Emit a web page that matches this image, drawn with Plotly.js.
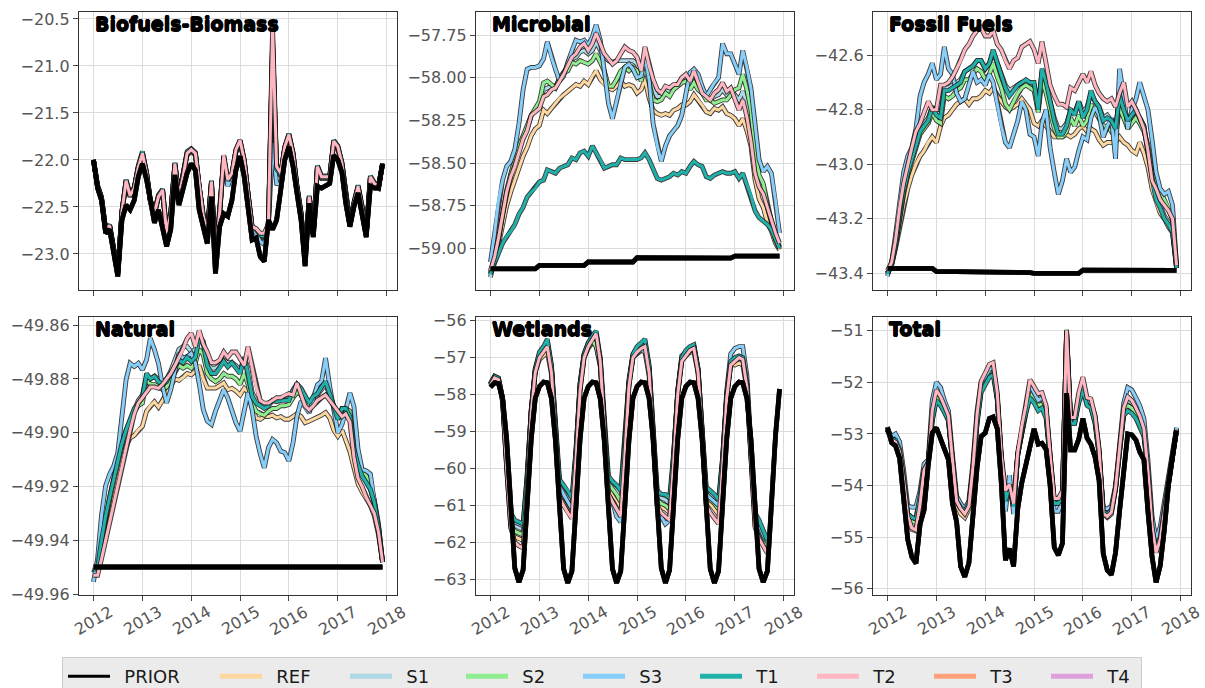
<!DOCTYPE html>
<html><head><meta charset="utf-8">
<script src="https://cdn.plot.ly/plotly-3.0.1.min.js"></script>
<style>html,body{margin:0;padding:0;background:#fff}#chart{width:1205px;height:688px}</style>
</head><body><div id="chart"></div>
<script>
// ---------------- categories ----------------
const years = [2012, 2013, 2014, 2015, 2016, 2017];
const yearTicks = [2012, 2013, 2014, 2015, 2016, 2017, 2018];
const seriesNames = ['PRIOR','REF','S1','S2','S3','T1','T2','T3','T4'];
const panelTitles = ['Biofuels-Biomass','Microbial','Fossil Fuels','Natural','Wetlands','Total'];

// ---------------- Biofuels-Biomass ----------------
const bioPRIOR = [-22.00,-22.30,-22.43,-22.78,-22.74,-22.99,-23.24,-22.64,-22.48,-22.53,-22.43,-22.18,
 -22.04,-22.21,-22.46,-22.67,-22.53,-22.71,-22.92,-22.74,-22.16,-22.48,-22.28,-22.14,
 -22.04,-22.11,-22.53,-22.71,-22.89,-22.39,-23.21,-22.71,-22.57,-22.60,-22.43,-22.11,
 -21.96,-22.18,-22.50,-22.85,-22.83,-23.03,-23.08,-22.64,-22.74,-22.64,-22.32,-22.00,
 -21.86,-22.07,-22.35,-22.64,-23.13,-22.46,-22.82,-22.28,-22.30,-22.27,-22.25,-21.95,
 -22.00,-22.14,-22.46,-22.71,-22.50,-22.35,-22.57,-22.82,-22.28,-22.30,-22.30,-22.04];
const bioREF = [-22.00,-22.29,-22.41,-22.75,-22.71,-22.97,-23.21,-22.56,-22.24,-22.39,-22.31,-22.09,
 -21.95,-22.15,-22.44,-22.58,-22.40,-22.34,-22.79,-22.58,-22.06,-22.40,-22.19,-21.95,
 -21.91,-21.95,-22.29,-22.61,-22.79,-22.25,-23.04,-22.58,-21.99,-22.24,-22.17,-21.92,
 -21.82,-22.02,-22.37,-22.73,-22.76,-22.82,-22.83,-22.70,-20.80,-22.12,-22.17,-21.88,
 -21.75,-21.95,-22.30,-22.59,-23.08,-22.41,-22.80,-22.09,-22.20,-22.20,-22.20,-21.83,
 -21.88,-22.06,-22.41,-22.70,-22.48,-22.30,-22.52,-22.80,-22.20,-22.27,-22.30,-22.05];
const bioS1 = [-22.00,-22.28,-22.40,-22.74,-22.70,-22.96,-23.20,-22.55,-22.22,-22.38,-22.30,-22.07,
 -21.93,-22.14,-22.43,-22.56,-22.38,-22.32,-22.78,-22.57,-22.04,-22.39,-22.18,-21.93,
 -21.89,-21.93,-22.28,-22.60,-22.78,-22.23,-23.03,-22.57,-21.97,-22.23,-22.16,-21.90,
 -21.80,-22.01,-22.36,-22.72,-22.75,-22.81,-22.82,-22.69,-20.70,-22.10,-22.16,-21.87,
 -21.73,-21.93,-22.28,-22.57,-23.06,-22.39,-22.78,-22.07,-22.18,-22.18,-22.18,-21.80,
 -21.86,-22.04,-22.39,-22.68,-22.46,-22.28,-22.50,-22.78,-22.18,-22.25,-22.28,-22.04];
const bioS2 = [-22.00,-22.28,-22.41,-22.75,-22.70,-22.96,-23.21,-22.56,-22.23,-22.39,-22.30,-22.08,
 -21.94,-22.15,-22.44,-22.57,-22.39,-22.33,-22.79,-22.58,-22.05,-22.40,-22.19,-21.94,
 -21.90,-21.94,-22.29,-22.61,-22.79,-22.24,-23.04,-22.58,-21.98,-22.23,-22.16,-21.91,
 -21.81,-22.02,-22.36,-22.72,-22.75,-22.81,-22.82,-22.70,-20.75,-22.11,-22.16,-21.87,
 -21.74,-21.94,-22.29,-22.58,-23.07,-22.40,-22.79,-22.08,-22.19,-22.19,-22.19,-21.82,
 -21.87,-22.05,-22.40,-22.69,-22.47,-22.29,-22.51,-22.79,-22.19,-22.26,-22.29,-22.04];
const bioS3 = [-22.00,-22.28,-22.40,-22.74,-22.70,-22.96,-23.20,-22.55,-22.22,-22.38,-22.30,-22.08,
 -21.93,-22.14,-22.43,-22.57,-22.39,-22.32,-22.78,-22.57,-22.04,-22.39,-22.18,-21.93,
 -21.89,-21.93,-22.28,-22.60,-22.80,-22.25,-23.05,-22.60,-21.98,-22.28,-22.16,-21.90,
 -21.80,-22.01,-22.36,-22.73,-22.78,-22.87,-22.90,-22.70,-21.82,-22.25,-22.26,-21.88,
 -21.74,-21.94,-22.29,-22.58,-23.07,-22.40,-22.79,-22.08,-22.19,-22.19,-22.19,-21.81,
 -21.87,-22.05,-22.40,-22.69,-22.47,-22.29,-22.51,-22.79,-22.19,-22.26,-22.29,-22.04];
const bioT1 = [-22.00,-22.27,-22.39,-22.73,-22.69,-22.95,-23.19,-22.54,-22.21,-22.37,-22.29,-22.06,
 -21.91,-22.13,-22.42,-22.55,-22.37,-22.31,-22.77,-22.56,-22.03,-22.38,-22.17,-21.91,
 -21.88,-21.92,-22.27,-22.59,-22.77,-22.22,-23.02,-22.56,-21.96,-22.22,-22.15,-21.89,
 -21.79,-22.00,-22.35,-22.71,-22.74,-22.80,-22.81,-22.69,-20.75,-22.10,-22.15,-21.86,
 -21.72,-21.92,-22.27,-22.56,-23.05,-22.38,-22.77,-22.06,-22.17,-22.17,-22.17,-21.79,
 -21.85,-22.03,-22.38,-22.67,-22.45,-22.27,-22.49,-22.77,-22.17,-22.24,-22.27,-22.04];
const bioT2 = [-22.00,-22.28,-22.40,-22.74,-22.70,-22.96,-23.20,-22.55,-22.22,-22.38,-22.30,-22.08,
 -21.93,-22.14,-22.43,-22.57,-22.39,-22.32,-22.78,-22.57,-22.04,-22.39,-22.18,-21.93,
 -21.89,-21.93,-22.28,-22.60,-22.78,-22.23,-23.03,-22.57,-21.95,-22.21,-22.14,-21.89,
 -21.79,-22.00,-22.35,-22.71,-22.73,-22.78,-22.78,-22.68,-20.57,-22.07,-22.14,-21.86,
 -21.73,-21.93,-22.28,-22.57,-23.06,-22.39,-22.78,-22.07,-22.18,-22.18,-22.18,-21.80,
 -21.86,-22.04,-22.39,-22.68,-22.46,-22.28,-22.50,-22.78,-22.18,-22.25,-22.28,-22.04];

// ---------------- Microbial ----------------
const micPRIOR = [-59.12,-59.12,-59.12,-59.12,-59.12,-59.12,-59.12,-59.12,-59.12,-59.12,-59.12,-59.12,
 -59.10,-59.10,-59.10,-59.10,-59.10,-59.10,-59.10,-59.10,-59.10,-59.10,-59.10,-59.10,
 -59.08,-59.08,-59.08,-59.08,-59.08,-59.08,-59.08,-59.08,-59.08,-59.08,-59.08,-59.08,
 -59.055,-59.055,-59.055,-59.055,-59.055,-59.055,-59.055,-59.055,-59.055,-59.055,-59.055,-59.055,
 -59.057,-59.057,-59.057,-59.057,-59.057,-59.057,-59.057,-59.057,-59.057,-59.057,-59.057,-59.057,
 -59.045,-59.045,-59.045,-59.045,-59.045,-59.045,-59.045,-59.045,-59.045,-59.045,-59.045,-59.045];
const micREF = [-59.14,-59.07,-58.98,-58.86,-58.75,-58.67,-58.60,-58.52,-58.46,-58.41,-58.34,-58.30,
 -58.28,-58.19,-58.21,-58.18,-58.15,-58.12,-58.10,-58.08,-58.06,-58.04,-58.05,-58.02,
 -58.04,-57.99,-57.96,-58.01,-58.04,-58.06,-58.07,-58.05,-58.02,-58.05,-58.04,-58.05,
 -58.09,-58.07,-58.01,-58.12,-58.19,-58.21,-58.22,-58.21,-58.22,-58.19,-58.18,-58.16,
 -58.16,-58.14,-58.10,-58.13,-58.16,-58.20,-58.21,-58.18,-58.19,-58.17,-58.21,-58.22,
 -58.24,-58.28,-58.24,-58.31,-58.40,-58.60,-58.71,-58.76,-58.85,-58.90,-58.97,-59.01];
const micS1 = [-59.17,-59.06,-58.95,-58.80,-58.67,-58.57,-58.50,-58.42,-58.35,-58.30,-58.22,-58.19,
 -58.16,-58.07,-58.06,-58.05,-58.05,-58.01,-57.97,-57.94,-57.89,-57.88,-57.85,-57.84,
 -57.86,-57.84,-57.79,-57.84,-57.88,-57.90,-57.91,-57.90,-57.90,-57.90,-57.90,-57.90,
 -57.92,-57.98,-57.86,-57.97,-58.07,-58.11,-58.11,-58.07,-58.08,-58.05,-58.04,-58.01,
 -57.99,-58.04,-57.98,-58.05,-58.09,-58.12,-58.13,-58.11,-58.10,-58.07,-58.10,-58.08,
 -58.10,-58.13,-58.08,-58.15,-58.28,-58.50,-58.61,-58.66,-58.76,-58.84,-58.93,-58.99];
const micS2 = [-59.15,-59.06,-58.95,-58.80,-58.66,-58.56,-58.48,-58.40,-58.34,-58.28,-58.22,-58.18,
 -58.14,-58.03,-58.02,-58.04,-58.06,-58.00,-57.97,-57.96,-57.91,-57.92,-57.90,-57.91,
 -57.92,-57.90,-57.86,-57.91,-57.96,-58.05,-58.05,-58.01,-57.96,-57.94,-57.96,-57.94,
 -57.96,-58.02,-57.94,-58.03,-58.13,-58.14,-58.13,-58.09,-58.11,-58.07,-58.05,-58.03,
 -58.02,-58.07,-58.03,-58.07,-58.09,-58.13,-58.13,-58.15,-58.14,-58.13,-58.13,-58.10,
 -58.07,-58.06,-57.98,-58.07,-58.19,-58.42,-58.57,-58.62,-58.75,-58.84,-58.95,-59.00];
const micS3 = [-59.08,-58.91,-58.72,-58.60,-58.52,-58.49,-58.42,-58.27,-58.07,-57.95,-57.94,-57.94,
 -57.93,-57.89,-57.79,-57.88,-57.95,-58.02,-57.99,-57.91,-57.84,-57.78,-57.79,-57.78,
 -57.81,-57.76,-57.69,-57.78,-57.96,-58.15,-58.24,-58.13,-58.03,-57.94,-57.92,-57.95,
 -58.00,-57.99,-57.88,-58.01,-58.27,-58.40,-58.49,-58.40,-58.34,-58.31,-58.28,-58.22,
 -58.10,-57.97,-57.95,-57.98,-58.05,-58.11,-58.07,-58.03,-58.00,-57.80,-57.86,-57.86,
 -57.92,-57.98,-57.84,-57.94,-58.06,-58.27,-58.48,-58.55,-58.52,-58.56,-58.72,-58.91];
const micT1 = [-59.15,-59.08,-59.03,-58.97,-58.93,-58.90,-58.86,-58.80,-58.76,-58.70,-58.67,-58.65,
 -58.61,-58.60,-58.54,-58.55,-58.56,-58.53,-58.52,-58.51,-58.47,-58.48,-58.44,-58.43,
 -58.46,-58.40,-58.44,-58.48,-58.53,-58.52,-58.51,-58.51,-58.47,-58.48,-58.48,-58.48,
 -58.48,-58.47,-58.44,-58.48,-58.53,-58.59,-58.60,-58.59,-58.58,-58.56,-58.57,-58.55,
 -58.56,-58.52,-58.49,-58.51,-58.52,-58.58,-58.59,-58.57,-58.56,-58.55,-58.56,-58.56,
 -58.55,-58.59,-58.56,-58.63,-58.69,-58.78,-58.82,-58.84,-58.86,-58.89,-58.95,-59.00];
const micT2 = [-59.13,-59.05,-58.94,-58.80,-58.67,-58.58,-58.52,-58.44,-58.36,-58.31,-58.22,-58.20,
 -58.18,-58.11,-58.10,-58.07,-58.06,-58.02,-57.98,-57.93,-57.88,-57.86,-57.82,-57.80,
 -57.84,-57.80,-57.74,-57.80,-57.86,-57.89,-57.92,-57.90,-57.86,-57.82,-57.84,-57.85,
 -57.88,-57.96,-57.82,-57.93,-58.01,-58.07,-58.09,-58.05,-58.06,-58.04,-58.04,-58.00,
 -57.98,-58.02,-57.96,-58.03,-58.09,-58.11,-58.13,-58.09,-58.07,-58.03,-58.08,-58.06,
 -58.13,-58.19,-58.13,-58.23,-58.37,-58.56,-58.64,-58.68,-58.76,-58.84,-58.91,-58.97];

// ---------------- Fossil Fuels ----------------
const fosPRIOR = [-43.382,-43.382,-43.382,-43.382,-43.382,-43.382,-43.382,-43.382,-43.382,-43.382,-43.382,-43.382,
 -43.393,-43.393,-43.393,-43.393,-43.393,-43.393,-43.393,-43.393,-43.393,-43.393,-43.393,-43.393,
 -43.397,-43.397,-43.397,-43.397,-43.397,-43.397,-43.397,-43.397,-43.397,-43.397,-43.397,-43.397,
 -43.400,-43.400,-43.400,-43.400,-43.400,-43.400,-43.400,-43.400,-43.400,-43.400,-43.400,-43.400,
 -43.388,-43.388,-43.388,-43.388,-43.388,-43.388,-43.388,-43.388,-43.388,-43.388,-43.388,-43.388,
 -43.389,-43.389,-43.389,-43.389,-43.389,-43.389,-43.389,-43.389,-43.389,-43.389,-43.389,-43.389];
const fosREF = [-43.40,-43.37,-43.31,-43.23,-43.15,-43.09,-43.04,-43.00,-42.97,-42.95,-42.92,-42.90,
 -42.92,-42.86,-42.83,-42.82,-42.80,-42.78,-42.77,-42.76,-42.78,-42.76,-42.76,-42.75,
 -42.73,-42.74,-42.72,-42.75,-42.77,-42.79,-42.80,-42.79,-42.78,-42.76,-42.78,-42.80,
 -42.85,-42.86,-42.84,-42.86,-42.88,-42.90,-42.90,-42.90,-42.89,-42.90,-42.89,-42.87,
 -42.86,-42.88,-42.87,-42.88,-42.91,-42.93,-42.92,-42.92,-42.92,-42.90,-42.92,-42.93,
 -42.95,-42.96,-42.92,-42.96,-43.01,-43.09,-43.14,-43.18,-43.20,-43.23,-43.25,-43.38];
const fosS1 = [-43.40,-43.36,-43.29,-43.19,-43.09,-43.02,-42.97,-42.92,-42.87,-42.85,-42.83,-42.79,
 -42.81,-42.82,-42.72,-42.72,-42.71,-42.70,-42.69,-42.66,-42.65,-42.64,-42.62,-42.62,
 -42.65,-42.63,-42.59,-42.63,-42.67,-42.71,-42.73,-42.72,-42.71,-42.70,-42.70,-42.70,
 -42.71,-42.79,-42.66,-42.71,-42.77,-42.83,-42.87,-42.87,-42.85,-42.80,-42.81,-42.77,
 -42.81,-42.79,-42.74,-42.77,-42.79,-42.83,-42.82,-42.84,-42.86,-42.76,-42.80,-42.84,
 -42.82,-42.81,-42.83,-42.86,-42.95,-43.05,-43.12,-43.15,-43.19,-43.21,-43.24,-43.38];
const fosS2 = [-43.40,-43.37,-43.30,-43.20,-43.11,-43.04,-42.99,-42.94,-42.89,-42.87,-42.85,-42.81,
 -42.84,-42.85,-42.75,-42.76,-42.75,-42.73,-42.72,-42.69,-42.69,-42.67,-42.65,-42.66,
 -42.69,-42.67,-42.63,-42.68,-42.72,-42.78,-42.80,-42.77,-42.74,-42.72,-42.71,-42.72,
 -42.73,-42.81,-42.69,-42.74,-42.81,-42.87,-42.90,-42.90,-42.88,-42.83,-42.86,-42.82,
 -42.86,-42.84,-42.78,-42.81,-42.83,-42.86,-42.86,-42.88,-42.90,-42.79,-42.83,-42.87,
 -42.85,-42.83,-42.85,-42.88,-42.93,-43.03,-43.08,-43.10,-43.13,-43.16,-43.20,-43.38];
const fosS3 = [-43.41,-43.36,-43.26,-43.14,-43.03,-42.97,-42.94,-42.87,-42.75,-42.70,-42.67,-42.63,
 -42.69,-42.67,-42.57,-42.65,-42.67,-42.74,-42.77,-42.76,-42.71,-42.66,-42.70,-42.69,
 -42.71,-42.67,-42.70,-42.78,-42.86,-42.92,-42.94,-42.89,-42.84,-42.77,-42.80,-42.89,
 -42.90,-42.97,-42.85,-42.80,-42.94,-43.03,-43.11,-43.06,-42.98,-43.03,-43.01,-42.95,
 -42.90,-42.91,-42.83,-42.79,-42.82,-42.90,-42.86,-42.83,-42.98,-42.65,-42.75,-42.87,
 -42.80,-42.76,-42.70,-42.75,-42.80,-42.91,-43.03,-43.09,-43.11,-43.10,-43.15,-43.37];
const fosT1 = [-43.40,-43.37,-43.30,-43.20,-43.10,-43.03,-42.98,-42.93,-42.88,-42.86,-42.84,-42.79,
 -42.82,-42.83,-42.73,-42.73,-42.72,-42.71,-42.70,-42.66,-42.65,-42.64,-42.62,-42.62,
 -42.65,-42.63,-42.58,-42.63,-42.67,-42.72,-42.75,-42.73,-42.71,-42.70,-42.69,-42.70,
 -42.70,-42.80,-42.65,-42.70,-42.77,-42.84,-42.89,-42.89,-42.86,-42.80,-42.82,-42.77,
 -42.83,-42.80,-42.73,-42.77,-42.79,-42.84,-42.83,-42.84,-42.87,-42.75,-42.80,-42.84,
 -42.82,-42.80,-42.83,-42.86,-42.96,-43.06,-43.13,-43.16,-43.20,-43.22,-43.25,-43.38];
const fosT2 = [-43.39,-43.36,-43.28,-43.16,-43.07,-43.00,-42.94,-42.88,-42.85,-42.81,-42.77,-42.80,
 -42.80,-42.71,-42.71,-42.70,-42.68,-42.65,-42.62,-42.58,-42.56,-42.53,-42.51,-42.50,
 -42.53,-42.53,-42.51,-42.56,-42.58,-42.62,-42.65,-42.62,-42.61,-42.57,-42.56,-42.55,
 -42.58,-42.63,-42.55,-42.63,-42.71,-42.75,-42.78,-42.78,-42.79,-42.72,-42.73,-42.70,
 -42.67,-42.70,-42.66,-42.71,-42.74,-42.76,-42.77,-42.76,-42.79,-42.74,-42.70,-42.79,
 -42.77,-42.80,-42.83,-42.87,-42.95,-43.06,-43.09,-43.13,-43.15,-43.17,-43.20,-43.37];

// ---------------- Natural ----------------
const natPRIOR = [-49.950,-49.950,-49.950,-49.950,-49.950,-49.950,-49.950,-49.950,-49.950,-49.950,-49.950,-49.950,
 -49.950,-49.950,-49.950,-49.950,-49.950,-49.950,-49.950,-49.950,-49.950,-49.950,-49.950,-49.950,
 -49.950,-49.950,-49.950,-49.950,-49.950,-49.950,-49.950,-49.950,-49.950,-49.950,-49.950,-49.950,
 -49.950,-49.950,-49.950,-49.950,-49.950,-49.950,-49.950,-49.950,-49.950,-49.950,-49.950,-49.950,
 -49.950,-49.950,-49.950,-49.950,-49.950,-49.950,-49.950,-49.950,-49.950,-49.950,-49.950,-49.950,
 -49.950,-49.950,-49.950,-49.950,-49.950,-49.950,-49.950,-49.950,-49.950,-49.950,-49.950,-49.950];
const natT4 = [-49.9497,-49.9497,-49.9497,-49.9497,-49.9497,-49.9497,-49.9497,-49.9497,-49.9497,-49.9497,-49.9497,-49.9497,
 -49.9497,-49.9497,-49.9497,-49.9497,-49.9497,-49.9497,-49.9497,-49.9497,-49.9497,-49.9497,-49.9497,-49.9497,
 -49.9497,-49.9497,-49.9497,-49.9497,-49.9497,-49.9497,-49.9497,-49.9497,-49.9497,-49.9497,-49.9497,-49.9497,
 -49.9497,-49.9497,-49.9497,-49.9497,-49.9497,-49.9497,-49.9497,-49.9497,-49.9497,-49.9497,-49.9497,-49.9497,
 -49.9497,-49.9497,-49.9497,-49.9497,-49.9497,-49.9497,-49.9497,-49.9497,-49.9497,-49.9497,-49.9497,-49.9497,
 -49.9497,-49.9497,-49.9497,-49.9497,-49.9497,-49.9497,-49.9497,-49.9497,-49.9497,-49.9497,-49.9497,-49.9497];
const natREF = [-49.9520,-49.9510,-49.9430,-49.9360,-49.9290,-49.9220,-49.9160,-49.9100,-49.9050,-49.9020,-49.9010,-49.8990,
 -49.8976,-49.8920,-49.8900,-49.8885,-49.8905,-49.8880,-49.8855,-49.8830,-49.8800,-49.8805,-49.8795,-49.8780,
 -49.8785,-49.8770,-49.8750,-49.8800,-49.8834,-49.8834,-49.8834,-49.8825,-49.8815,-49.8840,-49.8835,-49.8845,
 -49.8860,-49.8835,-49.8850,-49.8905,-49.8945,-49.8950,-49.8940,-49.8940,-49.8935,-49.8945,-49.8940,-49.8950,
 -49.8950,-49.8940,-49.8930,-49.8940,-49.8963,-49.8957,-49.8950,-49.8945,-49.8935,-49.8925,-49.8945,-49.8990,
 -49.9013,-49.8990,-49.9025,-49.9070,-49.9130,-49.9190,-49.9220,-49.9245,-49.9270,-49.9310,-49.9380,-49.9480];
const natS1 = [-49.9520,-49.9490,-49.9400,-49.9310,-49.9240,-49.9170,-49.9100,-49.9040,-49.8990,-49.8950,-49.8910,-49.8880,
 -49.8860,-49.8790,-49.8800,-49.8790,-49.8800,-49.8810,-49.8800,-49.8770,-49.8730,-49.8690,-49.8680,-49.8680,
 -49.8700,-49.8690,-49.8640,-49.8660,-49.8740,-49.8760,-49.8760,-49.8750,-49.8730,-49.8740,-49.8740,-49.8750,
 -49.8770,-49.8720,-49.8760,-49.8850,-49.8880,-49.8890,-49.8900,-49.8890,-49.8880,-49.8880,-49.8875,-49.8870,
 -49.8870,-49.8840,-49.8820,-49.8840,-49.8870,-49.8890,-49.8870,-49.8860,-49.8840,-49.8820,-49.8860,-49.8900,
 -49.8940,-49.8910,-49.8910,-49.8930,-49.9050,-49.9110,-49.9150,-49.9180,-49.9210,-49.9260,-49.9350,-49.9480];
const natS2 = [-49.9520,-49.9500,-49.9410,-49.9320,-49.9250,-49.9180,-49.9110,-49.9050,-49.9000,-49.8960,-49.8920,-49.8900,
 -49.8890,-49.8800,-49.8820,-49.8820,-49.8830,-49.8840,-49.8830,-49.8800,-49.8770,-49.8750,-49.8760,-49.8750,
 -49.8760,-49.8740,-49.8690,-49.8710,-49.8780,-49.8800,-49.8810,-49.8800,-49.8780,-49.8790,-49.8790,-49.8800,
 -49.8820,-49.8780,-49.8820,-49.8890,-49.8920,-49.8930,-49.8935,-49.8920,-49.8910,-49.8910,-49.8900,-49.8900,
 -49.8895,-49.8870,-49.8850,-49.8860,-49.8880,-49.8900,-49.8890,-49.8880,-49.8870,-49.8860,-49.8870,-49.8900,
 -49.8950,-49.8920,-49.8910,-49.8920,-49.9030,-49.9100,-49.9140,-49.9160,-49.9190,-49.9250,-49.9340,-49.9480];
const natS3 = [-49.9554,-49.9468,-49.9308,-49.9197,-49.9154,-49.9123,-49.9074,-49.8939,-49.8803,-49.8742,-49.8754,-49.8742,
 -49.8766,-49.8729,-49.8649,-49.8692,-49.8742,-49.8828,-49.8889,-49.8840,-49.8766,-49.8705,-49.8723,-49.8717,
 -49.8705,-49.8742,-49.8816,-49.8914,-49.8957,-49.8969,-49.8920,-49.8883,-49.8840,-49.8871,-49.8920,-49.8963,
 -49.8994,-49.8920,-49.8852,-49.8914,-49.9013,-49.9080,-49.9130,-49.9056,-49.9025,-49.9037,-49.9068,-49.9074,
 -49.9105,-49.9037,-49.8939,-49.8883,-49.8908,-49.8926,-49.8871,-49.8822,-49.8809,-49.8723,-49.8828,-49.8914,
 -49.9000,-49.8969,-49.8920,-49.8852,-49.8902,-49.9062,-49.9136,-49.9142,-49.9154,-49.9247,-49.9370,-49.9481];
const natT1 = [-49.9510,-49.9500,-49.9400,-49.9310,-49.9240,-49.9170,-49.9100,-49.9040,-49.8990,-49.8950,-49.8910,-49.8890,
 -49.8870,-49.8780,-49.8800,-49.8790,-49.8810,-49.8820,-49.8810,-49.8780,-49.8750,-49.8730,-49.8740,-49.8720,
 -49.8735,-49.8720,-49.8650,-49.8670,-49.8750,-49.8780,-49.8780,-49.8760,-49.8735,-49.8755,-49.8740,-49.8760,
 -49.8780,-49.8720,-49.8780,-49.8865,-49.8890,-49.8900,-49.8910,-49.8900,-49.8880,-49.8885,-49.8880,-49.8880,
 -49.8880,-49.8840,-49.8820,-49.8835,-49.8865,-49.8890,-49.8865,-49.8855,-49.8830,-49.8810,-49.8855,-49.8900,
 -49.8950,-49.8910,-49.8910,-49.8940,-49.9060,-49.9120,-49.9160,-49.9185,-49.9210,-49.9260,-49.9350,-49.9480];
const natT2 = [-49.9530,-49.9530,-49.9470,-49.9400,-49.9330,-49.9260,-49.9190,-49.9120,-49.9050,-49.8990,-49.8930,-49.8890,
 -49.8870,-49.8850,-49.8830,-49.8830,-49.8835,-49.8820,-49.8800,-49.8780,-49.8750,-49.8720,-49.8690,-49.8650,
 -49.8630,-49.8680,-49.8620,-49.8670,-49.8700,-49.8740,-49.8740,-49.8730,-49.8700,-49.8720,-49.8700,-49.8700,
 -49.8725,-49.8750,-49.8680,-49.8750,-49.8830,-49.8880,-49.8890,-49.8890,-49.8880,-49.8870,-49.8870,-49.8860,
 -49.8855,-49.8860,-49.8815,-49.8860,-49.8900,-49.8915,-49.8900,-49.8880,-49.8870,-49.8860,-49.8880,-49.8900,
 -49.8920,-49.8940,-49.8930,-49.8960,-49.9090,-49.9170,-49.9200,-49.9240,-49.9270,-49.9300,-49.9370,-49.9480];

// ---------------- Wetlands ----------------
const wetPRIOR = [-57.80,-57.68,-57.70,-58.10,-59.20,-61.00,-62.70,-63.08,-62.75,-61.00,-59.20,-58.10,
 -57.78,-57.66,-57.68,-58.10,-59.25,-61.05,-62.72,-63.10,-62.78,-61.05,-59.20,-58.10,
 -57.78,-57.66,-57.68,-58.12,-59.25,-61.05,-62.72,-63.10,-62.78,-61.05,-59.25,-58.10,
 -57.78,-57.66,-57.68,-58.10,-59.20,-61.00,-62.70,-63.10,-62.75,-61.00,-59.20,-58.10,
 -57.78,-57.66,-57.68,-58.10,-59.20,-61.00,-62.72,-63.10,-62.78,-61.00,-59.20,-58.10,
 -57.78,-57.66,-57.68,-58.10,-59.20,-61.00,-62.72,-63.08,-62.78,-61.00,-59.10,-57.85];
const wetREF = [-57.74,-57.54,-57.59,-58.18,-59.95,-61.60,-61.85,-61.90,-61.95,-60.50,-58.48,-57.38,
 -57.05,-56.95,-56.85,-57.45,-59.10,-60.70,-60.85,-61.00,-61.20,-59.75,-57.85,-57.00,
 -56.75,-56.60,-56.65,-57.25,-58.95,-60.55,-60.70,-60.85,-61.05,-59.60,-57.75,-57.00,
 -56.85,-56.80,-56.75,-57.40,-59.05,-60.90,-61.05,-61.10,-61.20,-59.85,-57.98,-57.08,
 -56.95,-56.85,-56.85,-57.42,-59.05,-60.85,-60.95,-61.10,-61.25,-59.90,-58.08,-57.18,
 -57.20,-57.15,-57.20,-57.85,-59.70,-61.55,-61.75,-62.00,-62.20,null,null,null];
const wetS1 = [-57.71,-57.51,-57.56,-58.10,-59.85,-61.35,-61.55,-61.60,-61.65,-60.30,-58.42,-57.32,
 -56.90,-56.75,-56.55,-57.25,-58.90,-60.45,-60.60,-60.75,-60.95,-59.55,-57.72,-56.92,
 -56.65,-56.45,-56.40,-57.05,-58.80,-60.35,-60.50,-60.60,-60.75,-59.40,-57.65,-56.92,
 -56.75,-56.65,-56.60,-57.25,-58.95,-60.70,-60.80,-60.85,-60.95,-59.65,-57.90,-57.02,
 -56.85,-56.75,-56.70,-57.32,-58.95,-60.60,-60.70,-60.80,-60.95,-59.75,-58.02,-57.12,
 -57.02,-56.97,-57.02,-57.72,-59.55,-61.30,-61.50,-61.75,-62.00,null,null,null];
const wetS2 = [-57.72,-57.52,-57.57,-58.15,-59.90,-61.50,-61.70,-61.75,-61.80,-60.40,-58.45,-57.35,
 -56.95,-56.80,-56.62,-57.30,-59.00,-60.60,-60.75,-60.90,-61.10,-59.65,-57.80,-56.95,
 -56.70,-56.55,-56.70,-57.20,-58.85,-60.40,-60.55,-60.70,-60.90,-59.50,-57.70,-56.95,
 -56.80,-56.70,-56.65,-57.30,-59.00,-60.85,-60.95,-61.00,-61.10,-59.75,-57.95,-57.05,
 -56.90,-56.80,-56.75,-57.35,-59.00,-60.75,-60.85,-60.95,-61.10,-59.85,-58.05,-57.15,
 -57.05,-57.00,-57.05,-57.75,-59.60,-61.40,-61.60,-61.85,-62.10,null,null,null];
const wetS3 = [-57.72,-57.52,-57.58,-58.10,-59.80,-61.25,-61.45,-61.50,-61.55,-60.20,-58.40,-57.30,
 -56.95,-56.80,-56.65,-57.30,-58.90,-60.50,-60.70,-60.90,-61.10,-59.60,-57.70,-56.90,
 -56.60,-56.45,-56.35,-57.10,-58.90,-60.70,-60.90,-61.30,-61.45,-59.60,-57.70,-56.95,
 -56.90,-56.80,-56.85,-57.50,-59.20,-61.10,-61.30,-61.50,-61.40,-59.80,-57.90,-56.95,
 -56.85,-56.75,-56.70,-57.30,-59.00,-60.70,-60.80,-60.90,-61.00,-59.80,-57.90,-56.90,
 -56.75,-56.70,-56.70,-57.50,-59.40,-61.30,-61.50,-61.80,-62.00,null,null,null];
const wetT1 = [-57.70,-57.50,-57.55,-58.10,-59.80,-61.20,-61.40,-61.45,-61.50,-60.20,-58.40,-57.30,
 -56.85,-56.70,-56.50,-57.20,-58.80,-60.30,-60.45,-60.60,-60.80,-59.50,-57.70,-56.90,
 -56.60,-56.40,-56.28,-57.00,-58.70,-60.20,-60.35,-60.45,-60.60,-59.30,-57.60,-56.90,
 -56.70,-56.60,-56.50,-57.20,-58.90,-60.60,-60.70,-60.70,-60.80,-59.60,-57.90,-57.00,
 -56.80,-56.70,-56.65,-57.30,-58.90,-60.50,-60.60,-60.70,-60.85,-59.70,-58.00,-57.10,
 -57.00,-56.95,-57.00,-57.70,-59.50,-61.20,-61.40,-61.70,-61.95,null,null,null];
const wetT2 = [-57.75,-57.55,-57.60,-58.20,-60.00,-61.60,-62.00,-62.10,-62.15,-60.60,-58.50,-57.40,
 -57.00,-56.85,-56.70,-57.40,-59.10,-60.80,-61.00,-61.20,-61.35,-59.80,-57.90,-57.00,
 -56.70,-56.50,-56.35,-57.10,-58.90,-60.70,-60.90,-61.10,-61.30,-59.70,-57.80,-57.00,
 -56.85,-56.75,-56.70,-57.40,-59.10,-61.00,-61.20,-61.30,-61.40,-59.90,-58.00,-57.10,
 -56.95,-56.80,-56.75,-57.40,-59.10,-61.00,-61.20,-61.35,-61.50,-60.00,-58.10,-57.20,
 -57.10,-57.00,-57.05,-57.80,-59.70,-61.60,-61.90,-62.10,-62.30,null,null,null];

// ---------------- Total ----------------
const totPRIOR = [-52.87,-53.17,-53.23,-53.47,-54.25,-55.05,-55.38,-55.51,-54.75,-54.47,-53.60,-52.98,
 -52.88,-53.11,-53.28,-53.50,-54.35,-54.70,-55.57,-55.77,-55.50,-54.55,-53.65,-53.05,
 -52.98,-52.70,-52.67,-52.90,-53.95,-55.45,-55.22,-55.57,-54.45,-53.95,-53.60,-53.20,
 -52.90,-53.20,-53.18,-53.30,-54.00,-55.20,-55.35,-55.12,-52.21,-53.31,-53.31,-53.10,
 -52.70,-53.08,-53.20,-53.45,-53.90,-55.32,-55.64,-55.73,-55.30,-54.50,-53.70,-53.00,
 -53.02,-53.12,-53.35,-53.50,-54.50,-55.38,-55.88,-55.55,-54.85,-54.00,-53.45,-52.93];
const totREF = [-52.92,-53.12,-53.17,-53.36,-53.95,-54.68,-54.85,-54.88,-54.40,-53.75,-53.58,-52.60,
 -52.22,-52.33,-52.50,-52.70,-53.55,-54.38,-54.55,-54.62,-54.45,-53.70,-52.68,-52.05,
 -51.90,-51.72,-51.70,-52.25,-53.45,-54.20,-54.05,-54.42,-53.40,-52.90,-52.50,-52.05,
 -52.15,-52.30,-52.28,-52.52,-53.45,-54.30,-54.30,-54.15,-51.05,-52.72,-52.72,-52.25,
 -51.98,-52.35,-52.38,-52.70,-53.35,-54.55,-54.62,-54.55,-54.08,-53.28,-52.55,-52.35,
 -52.42,-52.55,-52.72,-52.95,-53.72,-54.82,-55.28,-55.03,-54.48,-53.92,-53.38,-52.92];
const totS1 = [-52.92,-53.10,-53.11,-53.30,-53.85,-54.55,-54.62,-54.64,-54.20,-53.68,-53.54,-52.72,
 -52.30,-52.42,-52.55,-52.73,-53.53,-54.28,-54.42,-54.50,-54.35,-53.68,-52.77,-52.15,
 -52.00,-51.85,-51.80,-52.32,-53.48,-54.28,-53.95,-54.40,-53.40,-52.93,-52.57,-52.25,
 -52.35,-52.50,-52.45,-52.65,-53.48,-54.35,-54.35,-54.20,-51.02,-52.78,-52.78,-52.36,
 -52.10,-52.42,-52.47,-52.78,-53.40,-54.50,-54.55,-54.48,-54.03,-53.28,-52.60,-52.35,
 -52.40,-52.55,-52.70,-52.92,-53.70,-54.75,-55.15,-54.93,-54.40,-53.88,-53.33,-52.90];
const totS2 = [-52.92,-53.10,-53.13,-53.32,-53.88,-54.58,-54.70,-54.72,-54.25,-53.72,-53.55,-52.68,
 -52.28,-52.40,-52.53,-52.72,-53.55,-54.32,-54.45,-54.52,-54.38,-53.70,-52.75,-52.12,
 -51.95,-51.80,-51.75,-52.30,-53.48,-54.25,-54.00,-54.40,-53.40,-52.92,-52.55,-52.20,
 -52.30,-52.45,-52.42,-52.62,-53.48,-54.32,-54.32,-54.18,-50.98,-52.75,-52.75,-52.32,
 -52.05,-52.40,-52.45,-52.75,-53.38,-54.52,-54.58,-54.50,-54.05,-53.28,-52.58,-52.45,
 -52.50,-52.62,-52.78,-53.00,-53.75,-54.82,-55.22,-55.00,-54.45,-53.90,-53.35,-52.92];
const totS3 = [-52.90,-53.05,-53.00,-53.15,-53.70,-54.40,-54.42,-54.42,-54.10,-53.58,-53.50,-52.35,
 -52.00,-52.10,-52.35,-52.55,-53.40,-54.20,-54.35,-54.45,-54.30,-53.55,-52.55,-52.00,
 -51.90,-51.75,-51.70,-52.30,-53.50,-54.50,-53.80,-54.55,-53.40,-52.90,-52.50,-52.05,
 -52.20,-52.35,-52.30,-52.50,-53.50,-54.50,-54.50,-54.30,-51.10,-52.75,-52.75,-52.30,
 -52.05,-52.35,-52.40,-52.65,-53.30,-54.45,-54.45,-54.40,-54.00,-53.20,-52.40,-52.10,
 -52.15,-52.30,-52.45,-52.70,-53.50,-54.60,-55.05,-54.80,-54.30,-53.80,-53.30,-52.88];
const totT1 = [-52.92,-53.10,-53.12,-53.30,-53.85,-54.55,-54.62,-54.65,-54.20,-53.70,-53.55,-52.75,
 -52.35,-52.45,-52.58,-52.75,-53.55,-54.30,-54.42,-54.50,-54.35,-53.70,-52.80,-52.20,
 -52.05,-51.90,-51.85,-52.35,-53.50,-54.30,-54.00,-54.40,-53.40,-52.95,-52.60,-52.30,
 -52.40,-52.55,-52.50,-52.70,-53.50,-54.35,-54.35,-54.20,-51.05,-52.80,-52.80,-52.40,
 -52.15,-52.45,-52.50,-52.80,-53.40,-54.50,-54.55,-54.48,-54.05,-53.30,-52.65,-52.55,
 -52.60,-52.70,-52.85,-53.05,-53.80,-54.85,-55.20,-55.00,-54.45,-53.90,-53.35,-52.92];
const totT2 = [-52.92,-53.12,-53.16,-53.35,-53.90,-54.60,-54.82,-54.86,-54.35,-53.70,-53.55,-52.55,
 -52.15,-52.28,-52.45,-52.65,-53.50,-54.30,-54.45,-54.55,-54.40,-53.65,-52.62,-51.98,
 -51.82,-51.65,-51.62,-52.20,-53.40,-54.10,-53.98,-54.35,-53.35,-52.85,-52.45,-51.95,
 -52.08,-52.22,-52.20,-52.45,-53.40,-54.25,-54.25,-54.10,-51.00,-52.68,-52.68,-52.20,
 -51.90,-52.30,-52.32,-52.65,-53.30,-54.54,-54.60,-54.52,-54.05,-53.25,-52.50,-52.28,
 -52.35,-52.50,-52.65,-52.90,-53.70,-54.80,-55.30,-55.05,-54.50,-53.95,-53.40,-52.92];

// ---------------- styling ----------------
const colors = {PRIOR:'#000000', REF:'#fdd6a0', S1:'#add8e6', S2:'#90ee90', S3:'#87cefa',
                T1:'#20b2aa', T2:'#ffb6c1', T3:'#ffa07a', T4:'#dda0dd'};
const legendWidths = {PRIOR:95, REF:73, S1:59, S2:60, S3:60, T1:60, T2:60, T3:60, T4:38};
const panels = [
  {d:{PRIOR:bioPRIOR, REF:bioREF, S1:bioS1, S2:bioS2, S3:bioS3, T1:bioT1, T2:bioT2, T3:bioPRIOR, T4:bioPRIOR},
   range:[-23.384,-20.426], tick0:-20.5, dtick:0.5, fmt:'.1f'},
  {d:{PRIOR:micPRIOR, REF:micREF, S1:micS1, S2:micS2, S3:micS3, T1:micT1, T2:micT2, T3:micPRIOR, T4:micPRIOR},
   range:[-59.244,-57.615], tick0:-57.75, dtick:0.25, fmt:'.2f'},
  {d:{PRIOR:fosPRIOR, REF:fosREF, S1:fosS1, S2:fosS2, S3:fosS3, T1:fosT1, T2:fosT2, T3:fosPRIOR, T4:fosPRIOR},
   range:[-43.461,-42.442], tick0:-42.6, dtick:0.2, fmt:'.1f'},
  {d:{PRIOR:natPRIOR, REF:natREF, S1:natS1, S2:natS2, S3:natS3, T1:natT1, T2:natT2, T3:natPRIOR, T4:natT4},
   range:[-49.9603,-49.857], tick0:-49.86, dtick:0.02, fmt:'.2f'},
  {d:{PRIOR:wetPRIOR, REF:wetREF, S1:wetS1, S2:wetS2, S3:wetS3, T1:wetT1, T2:wetT2, T3:wetPRIOR, T4:wetPRIOR},
   range:[-63.425,-55.90], tick0:-56, dtick:1, fmt:'d'},
  {d:{PRIOR:totPRIOR, REF:totREF, S1:totS1, S2:totS2, S3:totS3, T1:totT1, T2:totT2, T3:totPRIOR, T4:totPRIOR},
   range:[-56.122,-50.734], tick0:-51, dtick:1, fmt:'d'}
];

const x = [];
years.forEach(y => { for (let m = 1; m <= 12; m++) x.push(y + '-' + String(m).padStart(2,'0') + '-01'); });

const W = 1205, H = 688;
const xDom = [[79/W, 397/W], [476/W, 794/W], [873/W, 1191/W]];
const yDom = [[(H-290)/H, (H-12)/H], [(H-595)/H, (H-317)/H]];

const traces = [];
const layout = {
  width: W, height: H, margin:{l:0, r:0, t:0, b:0, autoexpand:false},
  paper_bgcolor:'#ffffff', plot_bgcolor:'#ffffff',
  font:{family:'DejaVu Sans', color:'#555555'},
  showlegend:true,
  legend:{orientation:'h', x:62/W, xanchor:'left', y:(H-657)/H, yanchor:'top',
          bgcolor:'#ebebeb', bordercolor:'#cccccc', borderwidth:1,
          font:{family:'DejaVu Sans', size:18, color:'#1a1a1a'},
          itemwidth:42, entrywidthmode:'pixels', traceorder:'normal'},
  annotations: []
};

panels.forEach((p, k) => {
  const n = k + 1;
  const xa = n === 1 ? 'x' : 'x' + n, ya = n === 1 ? 'y' : 'y' + n;
  const col = k % 3, row = Math.floor(k / 3);
  layout['xaxis' + (n === 1 ? '' : n)] = {
    domain: xDom[col], anchor: ya, type:'date', range:['2011-09-15','2018-03-19'],
    tickmode:'linear', tick0:'2012-01-01', dtick:'M12', showticklabels:false,
    ticks:'outside', ticklen:5, tickwidth:1, tickcolor:'#444',
    showgrid:true, gridcolor:'#dcdcdc', gridwidth:1, zeroline:false,
    showline:true, mirror:true, linecolor:'#333', linewidth:1.2
  };
  layout['yaxis' + (n === 1 ? '' : n)] = {
    domain: yDom[row], anchor: xa, range:p.range, tickmode:'linear', tick0:p.tick0, dtick:p.dtick,
    tickformat:p.fmt, ticks:'outside', ticklen:5, tickwidth:1, tickcolor:'#444',
    tickfont:{family:'DejaVu Sans', size:16, color:'#555555'},
    showgrid:true, gridcolor:'#dcdcdc', gridwidth:1, zeroline:false,
    showline:true, mirror:true, linecolor:'#333', linewidth:1.2
  };
  seriesNames.slice(1).forEach((s) => {
    traces.push({x:x, y:p.d[s], xaxis:xa, yaxis:ya, type:'scatter', mode:'lines',
      line:{color:'rgba(25,25,25,0.85)', width:4.8}, showlegend:false, hoverinfo:'skip'});
    traces.push({x:x, y:p.d[s], xaxis:xa, yaxis:ya, type:'scatter', mode:'lines', name:s,
      line:{color:colors[s], width:3}, showlegend:false});
  });
  traces.push({x:x, y:p.d.PRIOR, xaxis:xa, yaxis:ya, type:'scatter', mode:'lines', name:'PRIOR',
    line:{color:'#000000', width:4.5}, showlegend:false});
  layout.annotations.push({
    xref: xa + ' domain', yref: ya + ' domain', x: 14/318, y: 1.005, xanchor:'left', yanchor:'top',
    text:'<b>' + panelTitles[k] + '</b>', showarrow:false,
    font:{family:'DejaVu Sans', size:19, color:'#000000',
          shadow:'0.6px 0 0 #000, -0.6px 0 0 #000, 0 0.6px 0 #000, 0 -0.6px 0 #000'}
  });
  if (row === 1) {
    yearTicks.forEach(yr => layout.annotations.push({
      xref: xa, yref:'paper', x: yr + '-01-01', y:(H-620)/H, xanchor:'center', yanchor:'middle',
      text:String(yr), textangle:-30, showarrow:false,
      font:{family:'DejaVu Sans', size:16, color:'#555555'}
    }));
  }
});

// legend entries (one per series, no data drawn)
seriesNames.forEach((s, j) => {
  traces.push({x:[null], y:[null], xaxis:'x', yaxis:'y', type:'scatter', mode:'lines',
    name:'\u00a0\u2009' + s, legendrank:j + 1, legendwidth:legendWidths[s], showlegend:true,
    line:{color:colors[s], width: s === 'PRIOR' ? 3 : 5}, hoverinfo:'skip'});
});

Plotly.newPlot('chart', traces, layout, {staticPlot:true, displayModeBar:false});
</script>
</body></html>
